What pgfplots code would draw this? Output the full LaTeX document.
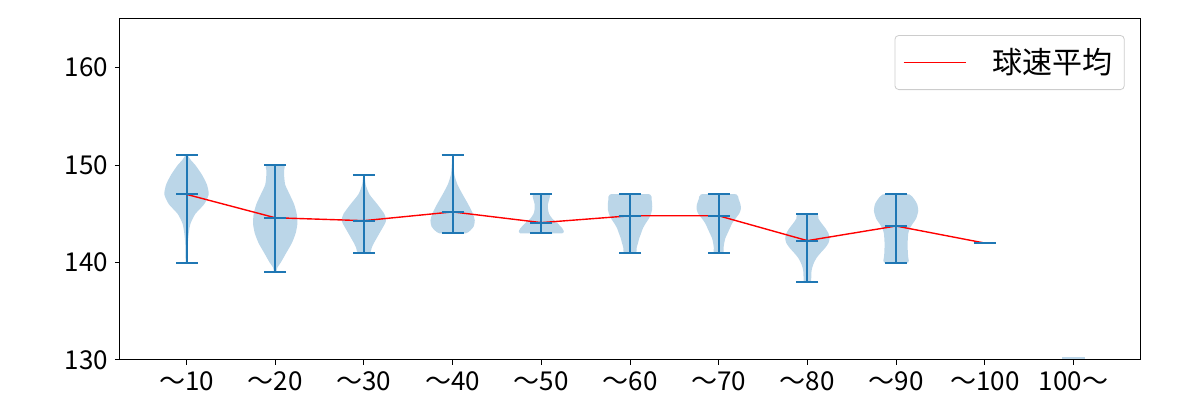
\documentclass[border=0pt]{standalone}
\usepackage{fontspec}
\setmainfont{Noto Sans CJK JP}
\usepackage{pgfplots}
\pgfplotsset{compat=1.18}
\usepackage{pgfplotstable}
\definecolor{C0}{HTML}{1F77B4}

\pgfplotstableread{
y w
151 0
151 0.05
150.5 0.2
150 0.4
149 0.7
148 0.92
147 1.0
146 0.8
145 0.4
144 0.18
143 0.1
142 0.06
141 0.05
140 0.04
140 0
}\vA
\pgfplotstableread{
y w
150 0
150 0.42
149.5 0.4
149 0.4
148 0.45
147 0.65
146 0.85
145 0.97
144 1.0
143 0.92
142 0.75
141 0.5
140 0.25
139.5 0.1
139 0.05
139 0
}\vB
\pgfplotstableread{
y w
149 0
149 0.03
148 0.08
147 0.25
146 0.6
145 0.92
144.4 1.0
144 0.95
143 0.7
142 0.45
141.5 0.35
141 0.28
141 0
}\vC
\pgfplotstableread{
y w
151 0
151 0.02
150 0.04
149 0.08
148 0.22
147 0.45
146 0.7
145 0.92
144.3 1.0
143.7 0.95
143.3 0.8
143 0.6
143 0
}\vD
\pgfplotstableread{
y w
147 0
147 0.38
146.5 0.36
146 0.3
145.5 0.3
145 0.35
144.5 0.5
144 0.75
143.5 0.95
143.3 1.0
143 0.95
143 0
}\vE
\pgfplotstableread{
y w
147 0
147 0.9
146.5 0.97
146 1.0
145.5 1.0
145 0.95
144.5 0.85
144 0.7
143.5 0.58
143 0.5
142.5 0.42
142 0.36
141.5 0.3
141 0.28
141 0
}\vF
\pgfplotstableread{
y w
147 0
147 0.8
146.5 0.9
146 0.98
145.5 1.0
145 0.92
144.5 0.75
144 0.6
143.5 0.5
143 0.4
142.5 0.3
142 0.25
141.5 0.22
141 0.22
141 0
}\vG
\pgfplotstableread{
y w
145 0
145 0.45
144.5 0.5
144 0.65
143.5 0.82
143 0.95
142.5 1.0
142 0.95
141.5 0.8
141 0.6
140.5 0.42
140 0.3
139.5 0.22
139 0.18
138 0.16
138 0
}\vH
\pgfplotstableread{
y w
147 0
147 0.6
146.5 0.82
146 0.95
145.3 1.0
144.5 0.9
144 0.75
143.5 0.62
143 0.55
142 0.52
141 0.53
140.5 0.55
140 0.55
140 0
}\vI
\pgfplotstableread{
x mean min max
1 147.0 140 151
2 144.6 139 150
3 144.3 141 149
4 145.2 143 151
5 144.1 143 147
6 144.8 141 147
7 144.8 141 147
8 142.25 138 145
9 143.75 140 147
10 142.0 142 142
}\stats

\newcommand{\violin}[2]{%
  \addplot[fill=C0, fill opacity=0.3, draw=none, forget plot, tension=0.4, smooth] table[x expr=#1+0.25*\thisrow{w}, y=y] {#2};
  \addplot[fill=C0, fill opacity=0.3, draw=none, forget plot, tension=0.4, smooth] table[x expr=#1-0.25*\thisrow{w}, y=y] {#2};
}

\begin{document}
\begin{tikzpicture}
\begin{axis}[
  scale only axis, width=510pt, height=170.5pt,
  xmin=0.25, xmax=11.75, ymin=130, ymax=165,
  xtick={1,2,3,4,5,6,7,8,9,10,11},
  xticklabels={～10,～20,～30,～40,～50,～60,～70,～80,～90,～100,100～},
  ytick={130,140,150,160},
  tick align=outside, tick pos=left,
  major tick length=2.5pt,
  axis line style={line width=0.5pt},
  every tick/.style={black, line width=0.5pt},
  tick label style={font=\fontsize{13}{15}\selectfont},
  /pgf/number format/assume math mode=true,
  legend style={at={(0.985,0.953)}, anchor=north east, draw=black!20, rounded corners=2pt,
    font=\fontsize{15}{17}\selectfont, inner xsep=4pt, inner ysep=4.5pt},
  legend image code/.code={\draw[red, line width=0.7pt] (0pt,0pt) -- (31pt,0pt); \path (42pt,0pt);},
  legend cell align=left,
]
\violin{1}{\vA}
\violin{2}{\vB}
\violin{3}{\vC}
\violin{4}{\vD}
\violin{5}{\vE}
\violin{6}{\vF}
\violin{7}{\vG}
\violin{8}{\vH}
\violin{9}{\vI}
\addplot[C0!30, line width=1pt, forget plot] coordinates {(10.875,130.2) (11.125,130.2)};
\addplot[only marks, mark=-, mark size=5.5pt, C0, line width=1pt, forget plot,
  error bars/.cd, y dir=both, y explicit,
  error bar style={C0, line width=1pt},
  error mark=|, error mark options={C0, line width=1pt, mark size=5.5pt}]
  table[x=x, y=mean, y error plus expr=\thisrow{max}-\thisrow{mean}, y error minus expr=\thisrow{mean}-\thisrow{min}] {\stats};
\addplot[red, line width=0.7pt] coordinates {(1,147.0) (2,144.6) (3,144.3) (4,145.2) (5,144.1) (6,144.8) (7,144.8) (8,142.25) (9,143.75) (10,142.0)};
\addlegendentry{球速平均}
\end{axis}
\path (current axis.south west) ++(-60pt,-20pt) rectangle ([shift={(30pt,9.5pt)}]current axis.north east);
\end{tikzpicture}
\end{document}
